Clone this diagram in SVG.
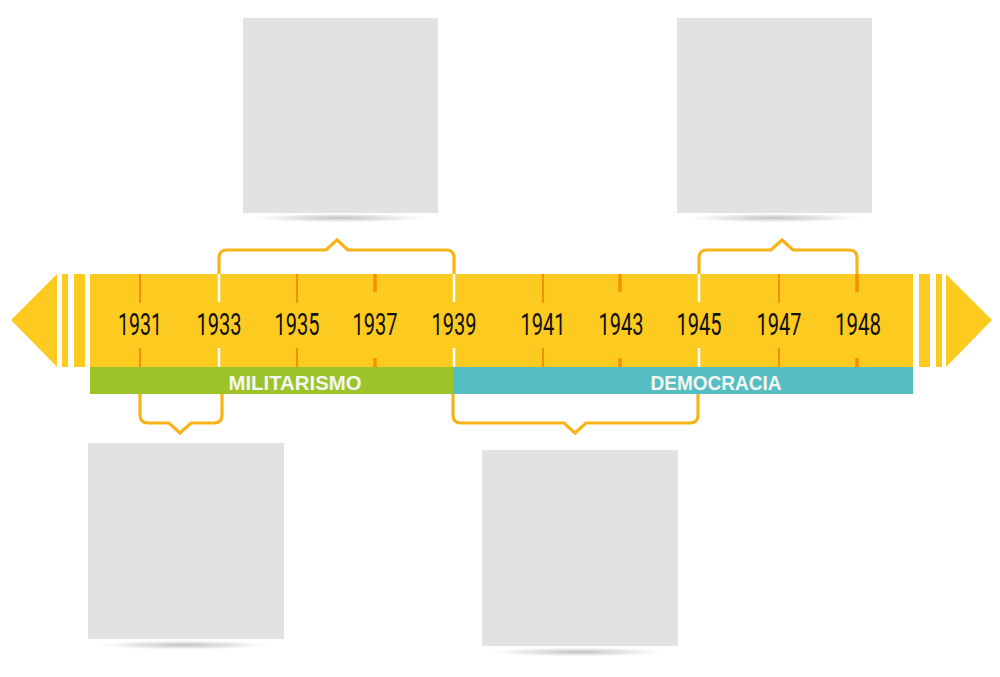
<svg xmlns="http://www.w3.org/2000/svg" width="1000" height="677" viewBox="0 0 1000 677">
  <defs>
    <radialGradient id="sh" cx="0.5" cy="0.5" r="0.5">
      <stop offset="0" stop-color="#b9b3b3" stop-opacity="0.85"/>
      <stop offset="0.6" stop-color="#cfcaca" stop-opacity="0.4"/>
      <stop offset="1" stop-color="#ffffff" stop-opacity="0"/>
    </radialGradient>
  </defs>
  <style>
    .box { fill: #e2e2e1; }
    .shadow { fill: url(#sh); }
    .bar { fill: #fdca1f; }
    .tk { stroke: #f39200; stroke-width: 2; fill: none; }
    .tkb { stroke: #f39200; stroke-width: 3.5; fill: none; }
    .tkw { stroke: #ffffff; stroke-width: 2.5; fill: none; }
    .br { stroke: #f9b318; stroke-width: 3.2; fill: none; stroke-linejoin: miter; }
    .yr { font-family: Roboto, "Liberation Sans", Arial, sans-serif; font-weight: 400; font-size: 32px; fill: #111111; text-anchor: middle; }
    .lbl { font-family: "Liberation Sans", Arial, sans-serif; font-size: 20px; font-weight: bold; fill: #f4f6f2; text-anchor: middle; }
  </style>

  <g id="box-1">
    <ellipse class="shadow" cx="340" cy="218" rx="96" ry="5"/>
    <rect class="box" x="243" y="18" width="195" height="195"/>
  </g>
  <g id="box-2">
    <ellipse class="shadow" cx="774" cy="218" rx="96" ry="5"/>
    <rect class="box" x="677" y="18" width="195" height="195"/>
  </g>
  <g id="box-3">
    <ellipse class="shadow" cx="184" cy="645" rx="96" ry="5"/>
    <rect class="box" x="88" y="443" width="196" height="196"/>
  </g>
  <g id="box-4">
    <ellipse class="shadow" cx="578" cy="652" rx="96" ry="5"/>
    <rect class="box" x="482" y="450" width="196" height="196"/>
  </g>

  <g id="timeline">
    <polygon class="bar" points="11,320 57,274 57,367"/>
    <rect class="bar" x="62" y="274" width="6" height="93"/>
    <rect class="bar" x="74" y="274" width="11" height="93"/>
    <rect class="bar" x="90" y="274" width="823" height="93"/>
    <rect class="bar" x="919" y="274" width="11" height="93"/>
    <rect class="bar" x="936" y="274" width="6" height="93"/>
    <polygon class="bar" points="946,274 992,320 946,367"/>
    <rect id="militarismo" x="90" y="367" width="364" height="27" fill="#9dc32b"/>
    <rect id="democracia" x="454" y="367" width="459" height="27" fill="#55bec2"/>
    <text class="lbl" x="295" y="390" textLength="133" lengthAdjust="spacingAndGlyphs">MILITARISMO</text>
    <text class="lbl" x="716" y="390" textLength="131" lengthAdjust="spacingAndGlyphs">DEMOCRACIA</text>
  </g>

  <g id="connectors">
    <path class="br" d="M219,274 V258 Q219,250 227,250 H326 L337,240 L348,250 H446 Q454,250 454,258 V274"/>
    <path class="br" d="M699,274 V258 Q699,250 707,250 H771 L782,240 L793,250 H849 Q857,250 857,258 V274"/>
    <path class="br" d="M140,394 V415 Q140,423 148,423 H169 L180,433 L191,423 H214 Q222,423 222,415 V394"/>
    <path class="br" d="M453,394 V415 Q453,423 461,423 H564 L575,433 L586,423 H690 Q698,423 698,415 V394"/>
  </g>

  <g id="ticks">
    <path class="tk" d="M140,274 V303 M140,348 V367 M297,274 V303 M297,348 V367 M543,274 V303 M543,348 V367 M779,274 V303 M779,348 V367"/>
    <path class="tkb" d="M375,274 V292 M375,358 V367 M620,274 V292 M620,358 V367 M857,274 V292 M857,358 V367"/>
    <path class="tkw" d="M219,274 V302 M219,348 V367 M454,274 V302 M454,348 V367 M699,274 V302 M699,348 V367"/>
  </g>

  <g id="years">
    <text class="yr" x="140" y="335" textLength="44" lengthAdjust="spacingAndGlyphs">1931</text>
    <text class="yr" x="219" y="335" textLength="45" lengthAdjust="spacingAndGlyphs">1933</text>
    <text class="yr" x="297" y="335" textLength="45" lengthAdjust="spacingAndGlyphs">1935</text>
    <text class="yr" x="375" y="335" textLength="45" lengthAdjust="spacingAndGlyphs">1937</text>
    <text class="yr" x="454" y="335" textLength="45" lengthAdjust="spacingAndGlyphs">1939</text>
    <text class="yr" x="543" y="335" textLength="45" lengthAdjust="spacingAndGlyphs">1941</text>
    <text class="yr" x="621" y="335" textLength="45" lengthAdjust="spacingAndGlyphs">1943</text>
    <text class="yr" x="699" y="335" textLength="45" lengthAdjust="spacingAndGlyphs">1945</text>
    <text class="yr" x="779" y="335" textLength="45" lengthAdjust="spacingAndGlyphs">1947</text>
    <text class="yr" x="858" y="335" textLength="46" lengthAdjust="spacingAndGlyphs">1948</text>
  </g>
</svg>
